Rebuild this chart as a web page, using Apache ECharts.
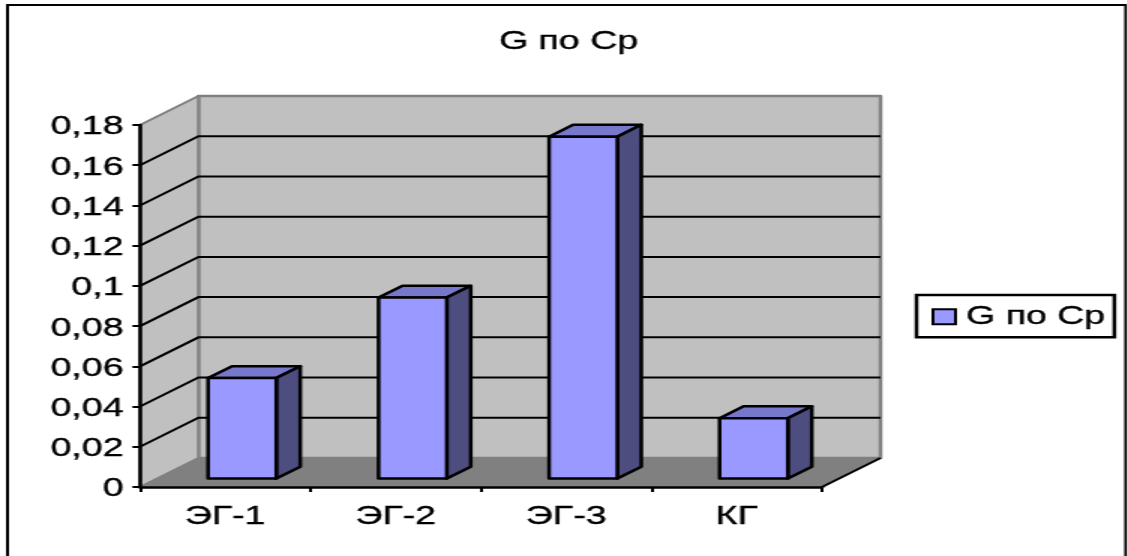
<!DOCTYPE html>
<html>
<head>
<meta charset="utf-8">
<style>
  html, body { margin: 0; padding: 0; background: #fff; overflow: hidden; }
  /* the original picture is stretched sideways, so the whole chart is too */
  #main { width: 752px; height: 556px; transform: scaleX(1.5); transform-origin: 0 0; }
</style>
<script src="https://cdn.jsdelivr.net/npm/echarts@6/dist/echarts.min.js"></script>
</head>
<body>
<div id="main"></div>
<script>
var categories = ["ЭГ-1", "ЭГ-2", "ЭГ-3", "КГ"];
var values = [0.05, 0.09, 0.17, 0.03];
var yTicks = [0.02, 0.04, 0.06, 0.08, 0.1, 0.12, 0.14, 0.16];
var seriesName = "G по Ср";
var yMax = 0.18;

// 3d look: how far the back wall sits from the front plane
var depthX = 39;
var depthY = -29;
var font = "Liberation Sans";
// makes the thin text a little heavier, like the scanned original
var textThick = { textBorderColor: "#000", textBorderWidth: 0.35 };

function back(p, f) {
  return [p[0] + depthX * f, p[1] + depthY * f];
}

function poly(points, fill, stroke, width) {
  return {
    type: "polygon",
    shape: { points: points },
    style: { fill: fill, stroke: stroke, lineWidth: width, lineJoin: "round" }
  };
}

function line(points, stroke, width) {
  return {
    type: "polyline",
    shape: { points: points },
    style: { fill: null, stroke: stroke, lineWidth: width }
  };
}

function renderWalls(params, api) {
  var band = api.size([1, 0])[0];
  var last = categories.length - 1;
  var fl = api.coord([0, 0]); fl[0] -= band / 2;
  var fr = api.coord([last, 0]); fr[0] += band / 2;
  var tl = api.coord([0, yMax]); tl[0] -= band / 2;
  var tr = api.coord([last, yMax]); tr[0] += band / 2;
  var items = [
    poly([back(tl, 1), back(tr, 1), back(fr, 1), back(fl, 1)], "#c0c0c0", "#808080", 2.5),
    poly([tl, back(tl, 1), back(fl, 1), fl], "#c0c0c0", "#808080", 2),
    poly([fl, fr, back(fr, 1), back(fl, 1)], "#808080", "#808080", 1)
  ];
  yTicks.forEach(function (v) {
    var p = api.coord([0, v]);
    p[0] -= band / 2;
    var q = [fr[0], p[1]];
    items.push(line([p, back(p, 1), back(q, 1)], "#000", 2));
  });
  items.push(line([fr, back(fr, 1)], "#000", 2));
  return { type: "group", children: items };
}

function renderBar(params, api) {
  var x = api.value(0);
  var band = api.size([1, 0])[0];
  var half = band * 0.4 / 2;
  var base = api.coord([x, 0]);
  var top = api.coord([x, api.value(1)]);
  // front face sits a bit inside the floor
  var a = back([base[0] - half, top[1]], 0.29);
  var b = back([base[0] + half, top[1]], 0.29);
  var c = back([base[0] + half, base[1]], 0.29);
  var d = back([base[0] - half, base[1]], 0.29);
  var dx = depthX * 0.41, dy = depthY * 0.41;
  function off(p) { return [p[0] + dx, p[1] + dy]; }
  return {
    type: "group",
    children: [
      poly([a, b, off(b), off(a)], "#7777cc", "#000", 2.5),
      poly([b, off(b), off(c), c], "#4d4d80", "#000", 2.5),
      poly([a, b, c, d], "#9999ff", "#000", 2.5)
    ]
  };
}

var chart = echarts.init(document.getElementById("main"));
chart.setOption({
  backgroundColor: "#fff",
  animation: false,
  textStyle: { fontFamily: font },
  title: {
    text: seriesName,
    left: 374,
    top: 25,
    textAlign: "center",
    textStyle: Object.assign({ fontFamily: font, fontSize: 25, fontWeight: "normal", color: "#000" }, textThick)
  },
  legend: {
    data: [seriesName],
    orient: "vertical",
    left: 611,
    top: 295,
    padding: [9, 6, 8, 10],
    backgroundColor: "#fff",
    borderColor: "#000",
    borderWidth: 2.5,
    borderRadius: 0,
    itemWidth: 15,
    itemHeight: 15,
    icon: "rect",
    itemStyle: { color: "#9999ff", borderColor: "#000", borderWidth: 2 },
    textStyle: Object.assign({ fontFamily: font, fontSize: 25, color: "#000", padding: [0, 0, 0, 2] }, textThick)
  },
  grid: { left: 93.3, right: 204, top: 125, bottom: 69 },
  xAxis: {
    type: "category",
    data: categories,
    z: 3,
    axisLine: { lineStyle: { color: "#000", width: 2.5 } },
    axisTick: { show: true, alignWithLabel: false, length: 5, lineStyle: { color: "#000", width: 2 } },
    axisLabel: Object.assign({ fontFamily: font, fontSize: 25, color: "#000", margin: 18 }, textThick)
  },
  yAxis: {
    type: "value",
    min: 0,
    max: yMax,
    interval: 0.02,
    z: 3,
    splitLine: { show: false },
    axisLine: { show: true, lineStyle: { color: "#000", width: 2.5 } },
    axisTick: { show: true, length: 5, lineStyle: { color: "#000", width: 2 } },
    axisLabel: Object.assign({
      fontFamily: font,
      fontSize: 25,
      color: "#000",
      margin: 11,
      verticalAlign: "top",
      lineHeight: 5,
      formatter: function (v) { return String(v).replace(".", ","); }
    }, textThick)
  },
  graphic: [
    {
      type: "rect",
      z: 0,
      shape: { x: 5, y: 5, width: 745.5, height: 600 },
      style: { fill: null, stroke: "#000", lineWidth: 2 }
    }
  ],
  series: [
    {
      type: "custom",
      name: "walls",
      z: 1,
      silent: true,
      renderItem: renderWalls,
      encode: { x: 0, y: 1 },
      data: [[0, 0]]
    },
    {
      type: "custom",
      name: seriesName,
      z: 4,
      itemStyle: { color: "#9999ff", borderColor: "#000", borderWidth: 2 },
      renderItem: renderBar,
      encode: { x: 0, y: 1 },
      data: values.map(function (v, i) { return [i, v]; })
    }
  ]
});
</script>
</body>
</html>
